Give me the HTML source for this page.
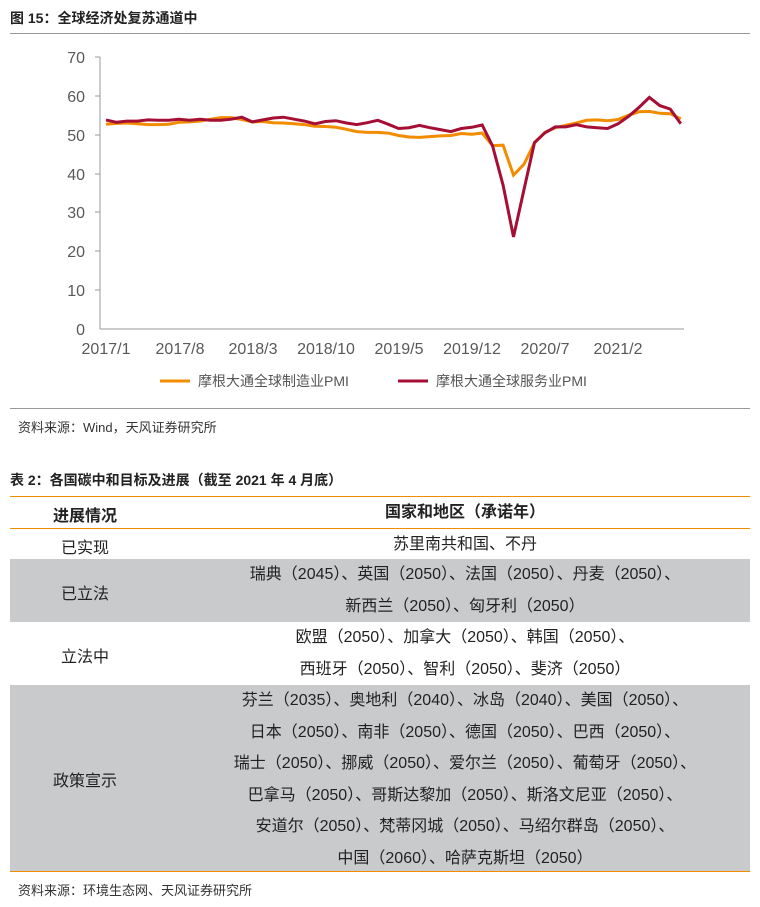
<!DOCTYPE html>
<html><head><meta charset="utf-8"><style>
body{margin:0;width:760px;height:907px;background:#fff;font-family:"Liberation Sans","Noto Sans CJK SC",sans-serif;color:#222;position:relative;overflow:hidden}
.a{position:absolute}
.t{font-weight:bold;font-size:14px}
.row{position:absolute;left:10px;width:740px}
.c1{position:absolute;left:0;width:150px;text-align:center;font-size:16px}
.c2{position:absolute;left:150px;width:610px;text-align:center;font-size:16px;line-height:31.5px}
</style></head><body>
<div class="a t" style="left:10px;top:8px">图 15：全球经济处复苏通道中</div>
<div class="a" style="left:10px;top:33px;width:740px;height:1px;background:#999"></div>
<svg class="a" style="left:0;top:0" width="760" height="400">
<g font-family="Liberation Sans" font-size="16" fill="#595959" text-anchor="end">
<text x="85" y="63">70</text><text x="85" y="102">60</text><text x="85" y="141">50</text><text x="85" y="180">40</text><text x="85" y="218">30</text><text x="85" y="257">20</text><text x="85" y="296">10</text><text x="85" y="335">0</text>
</g>
<g stroke="#999" stroke-width="1">
<line x1="100" y1="57" x2="100" y2="329"/><line x1="100" y1="329" x2="684" y2="329"/>
<line x1="95" y1="57" x2="100" y2="57"/><line x1="95" y1="96" x2="100" y2="96"/><line x1="95" y1="135" x2="100" y2="135"/><line x1="95" y1="174" x2="100" y2="174"/><line x1="95" y1="212" x2="100" y2="212"/><line x1="95" y1="251" x2="100" y2="251"/><line x1="95" y1="290" x2="100" y2="290"/>
</g>
<g font-family="Liberation Sans" font-size="16" fill="#595959" text-anchor="middle">
<text x="106" y="354">2017/1</text><text x="180" y="354">2017/8</text><text x="253" y="354">2018/3</text><text x="326" y="354">2018/10</text><text x="399" y="354">2019/5</text><text x="472" y="354">2019/12</text><text x="545" y="354">2020/7</text><text x="618" y="354">2021/2</text>
</g>
<polyline id="o" fill="none" stroke="#f28c00" stroke-width="3" points=""/>
<polyline id="r" fill="none" stroke="#a50f35" stroke-width="3" points=""/>
<line x1="160" y1="381" x2="190" y2="381" stroke="#f28c00" stroke-width="3"/>
<text x="198" y="386" font-size="14" fill="#555" font-family="Liberation Sans, Noto Sans CJK SC">摩根大通全球制造业PMI</text>
<line x1="398" y1="381" x2="428" y2="381" stroke="#a50f35" stroke-width="3"/>
<text x="436" y="386" font-size="14" fill="#555" font-family="Liberation Sans, Noto Sans CJK SC">摩根大通全球服务业PMI</text>
</svg>
<script>
var o=[52.7,52.9,53.0,52.8,52.6,52.6,52.7,53.2,53.3,53.5,54.0,54.4,54.4,53.9,53.3,53.4,53.1,53.0,52.8,52.6,52.2,52.1,51.9,51.4,50.8,50.6,50.6,50.4,49.8,49.4,49.3,49.5,49.7,49.8,50.3,50.1,50.4,47.2,47.3,39.6,42.4,47.9,50.6,51.8,52.4,53.0,53.7,53.8,53.6,53.9,55.0,55.9,56.0,55.5,55.4,54.1];
var r=[53.8,53.2,53.5,53.5,53.8,53.7,53.7,54.0,53.7,54.0,53.7,53.7,54.0,54.5,53.3,53.8,54.3,54.5,54.0,53.5,52.8,53.4,53.6,53.0,52.6,53.1,53.7,52.7,51.6,51.8,52.4,51.8,51.3,50.8,51.6,51.9,52.5,47.1,37.0,23.7,35.9,48.0,50.5,52.0,52.0,52.6,52.0,51.8,51.6,52.8,54.7,57.0,59.6,57.5,56.6,52.8];
function p(a){return a.map(function(v,i){return (106+i*10.45).toFixed(1)+","+(329-v*3.886).toFixed(1)}).join(" ")}
document.getElementById("o").setAttribute("points",p(o));
document.getElementById("r").setAttribute("points",p(r));
</script>
<div class="a" style="left:10px;top:408px;width:740px;height:1px;background:#999"></div>
<div class="a" style="left:18px;top:417px;font-size:13px;color:#333">资料来源：Wind，天风证券研究所</div>
<div class="a t" style="left:10px;top:470px">表 2：各国碳中和目标及进展（截至 2021 年 4 月底）</div>
<div class="a" style="left:10px;top:496px;width:740px;height:1px;background:#f28c00"></div>
<div class="row" style="top:497px;height:31px"><div class="c1" style="top:5px;font-weight:bold">进展情况</div><div class="c2" style="top:0;font-weight:bold">国家和地区（承诺年）</div></div>
<div class="a" style="left:10px;top:528px;width:740px;height:1px;background:#f28c00"></div>
<div class="row" style="top:529px;height:30px"><div class="c1" style="top:5px">已实现</div><div class="c2" style="top:0">苏里南共和国、不丹</div></div>
<div class="row" style="top:559px;height:63px;background:#c9cacc"><div class="c1" style="top:21px">已立法</div><div class="c2" style="top:0">瑞典（2045）、英国（2050）、法国（2050）、丹麦（2050）、<br>新西兰（2050）、匈牙利（2050）</div></div>
<div class="row" style="top:622px;height:63px"><div class="c1" style="top:21px">立法中</div><div class="c2" style="top:0">欧盟（2050）、加拿大（2050）、韩国（2050）、<br>西班牙（2050）、智利（2050）、斐济（2050）</div></div>
<div class="row" style="top:685px;height:186px;background:#c9cacc"><div class="c1" style="top:82px">政策宣示</div><div class="c2" style="top:0">芬兰（2035）、奥地利（2040）、冰岛（2040）、美国（2050）、<br>日本（2050）、南非（2050）、德国（2050）、巴西（2050）、<br>瑞士（2050）、挪威（2050）、爱尔兰（2050）、葡萄牙（2050）、<br>巴拿马（2050）、哥斯达黎加（2050）、斯洛文尼亚（2050）、<br>安道尔（2050）、梵蒂冈城（2050）、马绍尔群岛（2050）、<br>中国（2060）、哈萨克斯坦（2050）</div></div>
<div class="a" style="left:10px;top:871px;width:740px;height:1px;background:#f28c00"></div>
<div class="a" style="left:18px;top:880px;font-size:13px;color:#333">资料来源：环境生态网、天风证券研究所</div>
</body></html>
